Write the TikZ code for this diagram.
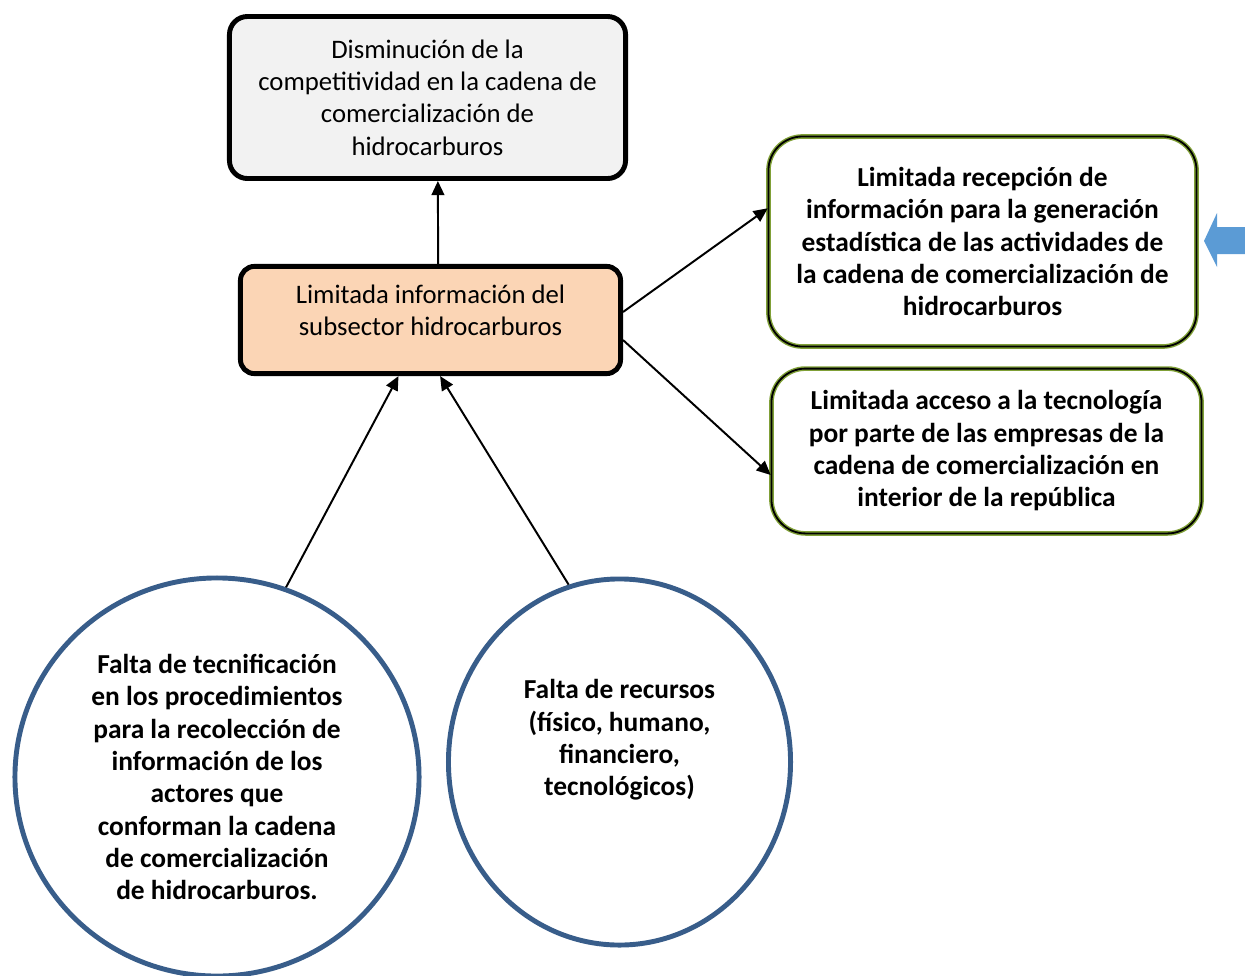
\documentclass[tikz,border=0pt]{standalone}
\usepackage{fontspec}
\setmainfont{Carlito}
\usetikzlibrary{arrows.meta, shapes.geometric}
\definecolor{cajaGris}{RGB}{242,242,242}
\definecolor{cajaSalmon}{RGB}{251,213,181}
\definecolor{bordeAzul}{RGB}{56,93,138}
\definecolor{bordeOliva}{RGB}{128,160,55}
\definecolor{flechaAzul}{RGB}{91,155,213}

\begin{document}
\begin{tikzpicture}[x=0.025cm, y=-0.025cm,
  caja/.style={rectangle, rounded corners=0.45cm, draw=black, line width=3.5pt,
               align=center, font=\fontsize{19}{23}\selectfont},
  cajaverde/.style={rectangle, rounded corners=0.85cm, draw=bordeOliva, double=black,
               double distance=1.3pt, line width=1pt, fill=white,
               align=center, font=\fontsize{19.5}{23}\selectfont\bfseries},
  causa/.style={ellipse, draw=bordeAzul, line width=3.5pt, inner sep=0pt},
  causatexto/.style={align=center, font=\fontsize{19.5}{23}\selectfont\bfseries},
  arr/.style={-{Triangle[length=10pt, width=9pt]}, line width=1.4pt}
]
\useasboundingbox (0,0) rectangle (1245,975);

\node[caja, fill=cajaGris, minimum width=9.9cm, minimum height=4.05cm] (efecto) at (427.5,97.5)
  {Disminución de la\\competitividad en la cadena de\\comercialización de\\hidrocarburos};
\node[caja, fill=cajaSalmon, rounded corners=0.35cm, minimum width=9.5cm, minimum height=2.68cm,
  text depth=14pt] (problema) at (430.5,320)
  {Limitada información del\\subsector hidrocarburos};

\node[cajaverde, minimum width=10.7cm, minimum height=5.25cm] (recepcion) at (982.5,241.5)
  {Limitada recepción de\\información para la generación\\estadística de las actividades de\\la cadena de comercialización de\\hidrocarburos};
\node[cajaverde, minimum width=10.75cm, minimum height=4.12cm] (acceso) at (986.5,451)
  {Limitada acceso a la tecnología\\por parte de las empresas de la\\cadena de comercialización en\\interior de la república};

\node[causa, minimum width=10.1cm, minimum height=9.95cm,
  label={[causatexto]center:Falta de tecnificación\\en los procedimientos\\para la recolección de\\información de los\\actores que\\conforman la cadena\\de comercialización\\de hidrocarburos.}]
  (tecnif) at (217,777) {};
\node[causa, minimum width=8.55cm, minimum height=9.15cm,
  label={[causatexto, yshift=0.55cm]center:Falta de recursos\\(físico, humano,\\financiero,\\tecnológicos)}]
  (recursos) at (619.5,762) {};

% flechas
\draw[arr] ([xshift=0.19cm]problema.north) -- ([xshift=0.26cm]efecto.south);
\draw[arr] ([yshift=0.2cm]problema.east) -- ([yshift=0.83cm]recepcion.west);
\draw[arr] ([yshift=-0.5cm]problema.east) -- ([yshift=-0.6cm]acceso.west);
\draw[arr] (tecnif.70) -- ([xshift=-0.8cm]problema.south);
\draw[arr] (recursos.106) -- ([xshift=0.24cm]problema.south);

% flecha azul
\fill[flechaAzul] (1204,241) -- (1217,213) -- (1217,227) -- (1245,227)
  -- (1245,254) -- (1217,254) -- (1217,267) -- cycle;
\end{tikzpicture}
\end{document}
